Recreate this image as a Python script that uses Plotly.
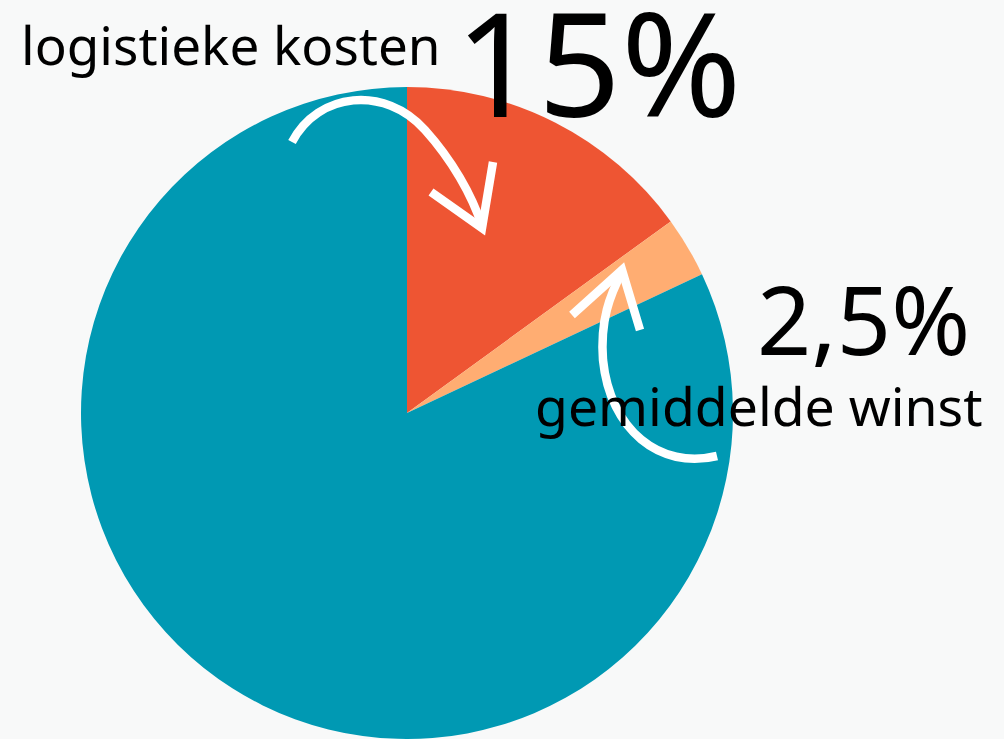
import plotly.graph_objects as go

W, H = 1004, 739

labels = ["logistieke kosten", "gemiddelde winst", "overig"]
values = [15, 3, 82]
colors = ["#EE5533", "#FFAD72", "#0099B3"]

BG = "#F8F9F9"
FONT = "Noto Sans"

def px(x, y):
    return f"{x / W:.5f},{1 - y / H:.5f}"

def path(cmds):
    out = []
    for c in cmds:
        if isinstance(c, str):
            out.append(c)
        else:
            out.append(px(*c))
    return " ".join(out)

fig = go.Figure()
fig.add_trace(go.Pie(
    labels=labels,
    values=values,
    marker=dict(colors=colors, line=dict(width=0)),
    sort=False,
    direction="clockwise",
    rotation=0,
    textinfo="none",
    hoverinfo="label+percent",
    showlegend=False,
    domain=dict(x=[80 / W, 734 / W], y=[0, 1 - 87 / H]),
))

arrow1 = path(["M", (292, 142), "C", (318, 92), (385, 85), (425, 130),
               "C", (452, 160), (472, 195), (482, 226)])
head1 = path(["M", (431, 192), "L", (482, 228), "L", (493, 162)])
arrow2 = path(["M", (717, 456), "C", (660, 470), (610, 430), (603, 360),
               "C", (600, 320), (610, 295), (622, 272)])
head2 = path(["M", (572, 315), "L", (622, 270), "L", (640, 330)])

shapes = []
for p in (arrow1, head1, arrow2, head2):
    shapes.append(dict(type="path", path=p, xref="paper", yref="paper",
                       line=dict(color="white", width=8.5), layer="above"))

def ann(text, x, y, size, xanchor="left"):
    return dict(text=text, x=x / W, y=1 - y / H, xref="paper", yref="paper",
                xanchor=xanchor, yanchor="middle", showarrow=False,
                font=dict(family=FONT, size=size, color="black"))

annotations = [
    ann("logistieke kosten", 19, 44, 53),
    ann("15%", 453, 61, 145),
    ann("2,5%", 755, 318, 95),
    ann("gemiddelde winst", 533, 405, 53.5),
]

fig.update_layout(
    width=W, height=H,
    margin=dict(l=0, r=0, t=0, b=0),
    paper_bgcolor=BG, plot_bgcolor=BG,
    shapes=shapes,
    annotations=annotations,
)

fig.write_html("out.html")
